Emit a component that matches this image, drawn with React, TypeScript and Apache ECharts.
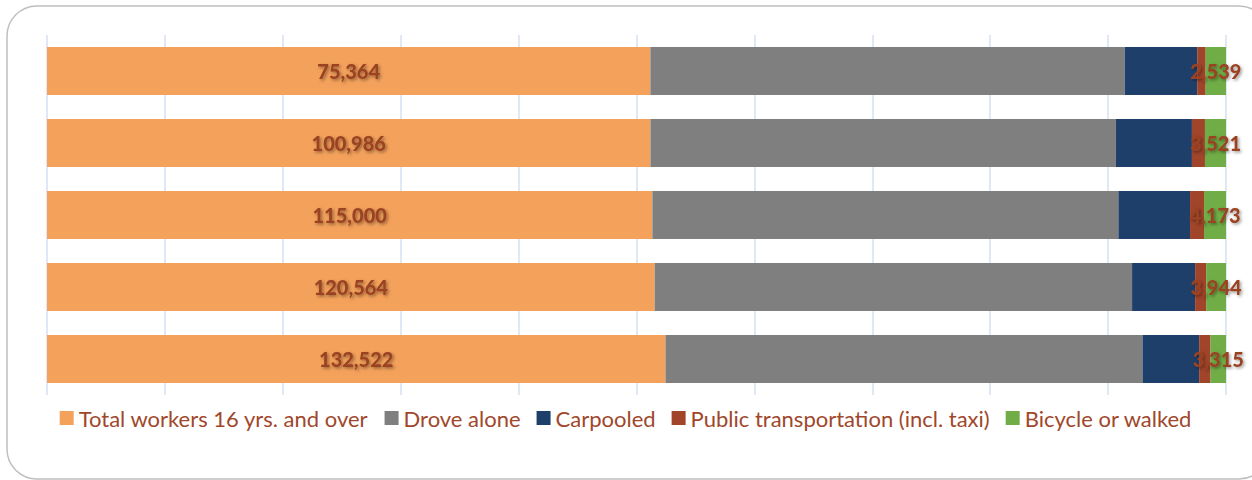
import React, { useEffect, useRef } from "react";
import * as echarts from "echarts";

const categories = ["Row 1", "Row 2", "Row 3", "Row 4", "Row 5"];
const seriesNames = [
  "Total workers 16 yrs. and over",
  "Drove alone",
  "Carpooled",
  "Public transportation (incl. taxi)",
  "Bicycle or walked",
];
const totalWorkers = [75364, 100986, 115000, 120564, 132522];
const droveAlone = [59240, 77890, 88530, 94740, 102210];
const carpooled = [9060, 12730, 13610, 12510, 12140];
const publicTransport = [1060, 2180, 2660, 2185, 2440];
const bicycleWalked = [2539, 3521, 4173, 3944, 3315];
const colors = ["#F3A15B", "#7F7F7F", "#1F3F6B", "#A0442A", "#70AD47"];
const labelled = [true, false, false, false, true];

export default function App() {
  const ref = useRef<HTMLDivElement>(null);
  useEffect(() => {
    if (!ref.current) return;
    const chart = echarts.init(ref.current, undefined, { renderer: "svg" });
    const raw = [totalWorkers, droveAlone, carpooled, publicTransport, bicycleWalked];
    const sums = categories.map((_, i) => raw.reduce((s, arr) => s + arr[i], 0));
    const fmt = (v: number) => v.toLocaleString("en-US");
    const series = raw.map((arr, k) => ({
      name: seriesNames[k],
      type: "bar",
      stack: "all",
      barWidth: 48,
      itemStyle: { color: colors[k] },
      data: arr.map((v, i) => ({ value: (v / sums[i]) * 100, raw: v })),
      label: {
        show: labelled[k],
        position: "inside",
        formatter: (p: any) => fmt(p.data.raw),
        color: "#9A4222",
        fontFamily: "Lato",
        fontWeight: 900,
        fontSize: 20,
        textShadowColor: "rgba(0,0,0,0.4)",
        textShadowBlur: 3,
        textShadowOffsetX: 1.5,
        textShadowOffsetY: 1.5,
      },
    }));
    chart.setOption({
      animation: false,
      grid: { left: 47, right: 26, top: 35, height: 360 },
      xAxis: {
        type: "value",
        min: 0,
        max: 100,
        interval: 10,
        axisLabel: { show: false },
        axisLine: { show: false },
        axisTick: { show: false },
        splitLine: { lineStyle: { color: "#D6E1F3", width: 1.5 } },
      },
      yAxis: {
        type: "category",
        data: categories,
        inverse: true,
        axisLabel: { show: false },
        axisLine: { show: false },
        axisTick: { show: false },
      },
      legend: {
        top: 402,
        left: "center",
        icon: "rect",
        itemWidth: 14,
        itemHeight: 14,
        itemGap: 16,
        textStyle: { color: "#A0472B", fontSize: 22, fontFamily: "Lato" },
        data: seriesNames,
      },
      graphic: [
        {
          type: "rect",
          shape: { x: 7, y: 6, width: 1262, height: 473, r: 30 },
          style: { fill: "none", stroke: "#BFBFBF", lineWidth: 1.5 },
          silent: true,
        },
      ],
      series,
    });
    return () => chart.dispose();
  }, []);
  return (
    <div
      ref={ref}
      style={{ position: "absolute", left: 0, top: 0, width: 1252, height: 480, background: "#fff" }}
    />
  );
}
